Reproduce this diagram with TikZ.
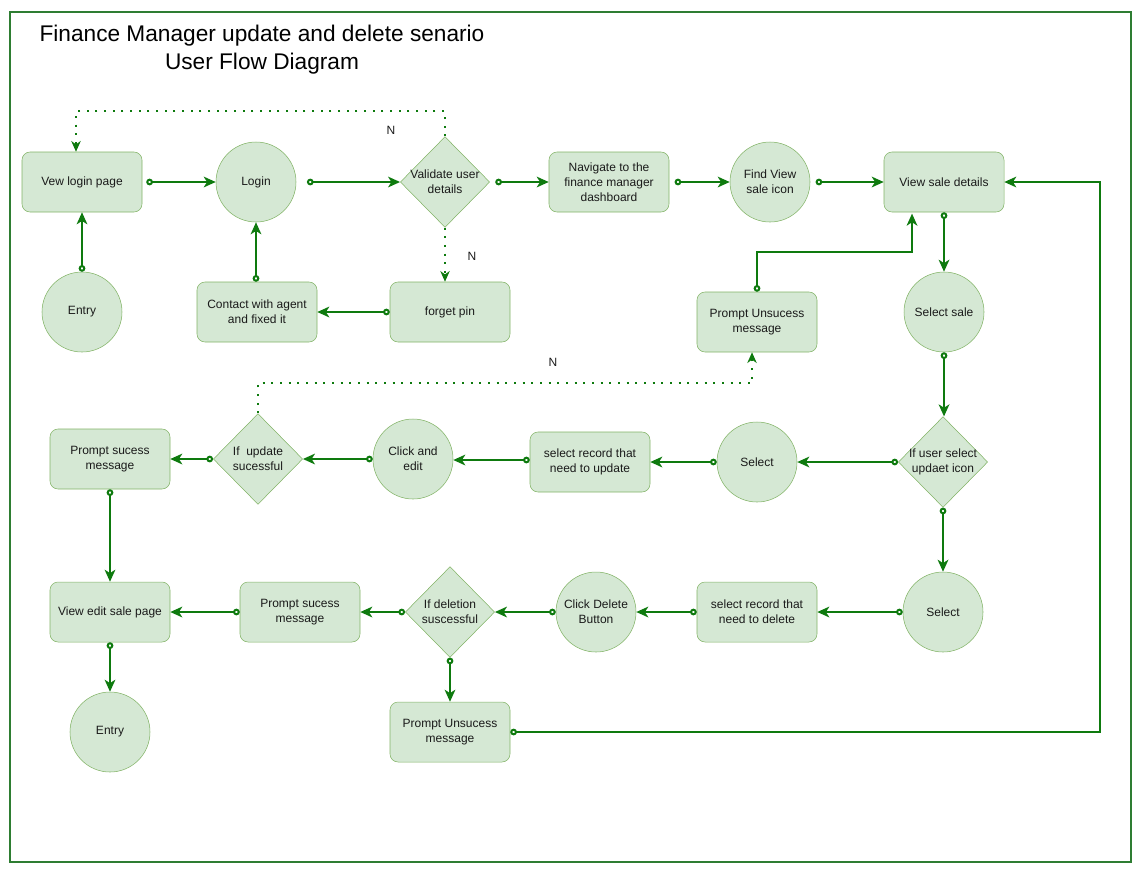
\documentclass[tikz,border=0pt]{standalone}
\usepackage{fontspec}
\setmainfont{Liberation Sans}
\usetikzlibrary{shapes.geometric,arrows.meta}
\definecolor{nfill}{HTML}{D5E8D4}
\definecolor{nline}{HTML}{82B366}
\definecolor{cgreen}{HTML}{0E7A0E}
\definecolor{fgreen}{HTML}{2E7D32}
\definecolor{txt}{HTML}{1A1A1A}
\newcommand\nf{\fontsize{9}{11.25}\selectfont}
\begin{document}
\begin{tikzpicture}[x=0.75pt,y=-0.75pt,
  box/.style={draw=nline,fill=nfill,rounded corners=6pt,minimum width=90pt,minimum height=45pt,align=center,font=\nf,text=txt,inner sep=2pt},
  circ/.style={draw=nline,fill=nfill,circle,minimum size=60pt,align=center,font=\nf,text=txt,inner sep=0pt},
  dia/.style={draw=nline,fill=nfill,diamond,minimum width=67pt,minimum height=68pt,inner sep=0pt},
  dtext/.style={font=\nf,text=txt,align=center},
  conn/.style={draw=cgreen,line width=1.5pt,{Circle[open,fill=white,length=5pt,width=5pt]}-{Stealth[length=9pt,width=8pt,inset=2.5pt]}},
  dconn/.style={draw=cgreen,line width=1.5pt,dash pattern=on 1.5pt off 5pt,-{Stealth[length=8pt,width=7pt,inset=2.5pt]}},
  lbl/.style={font=\nf,text=txt}]
\useasboundingbox (0,0) rectangle (1144,876);
\draw[fgreen,line width=1.5pt] (10,12) rectangle (1131,862);
\node[font=\fontsize{17}{21}\selectfont,align=center,text=black] (title) at (262,50) {Finance Manager update and delete senario\\User Flow Diagram};

% row 1
\node[box] (vlp) at (82,182) {Vew login page};
\node[circ] (login) at (256,182) {Login};
\node[dia] (val) at (445,182) {};
\node[dtext] (valt) at (val.center) {Validate user\\details};
\node[box] (nav) at (609,182) {Navigate to the\\finance manager\\dashboard};
\node[circ] (find) at (770,182) {Find View\\sale icon};
\node[box] (vsd) at (944,182) {View sale details};

% row 2
\node[circ] (entry1) at (82,312) {Entry};
\node[box] (contact) at (257,312) {Contact with agent\\and fixed it};
\node[box] (fp) at (450,312) {forget pin};
\node[box] (pu1) at (757,322) {Prompt Unsucess\\message};
\node[circ] (ss) at (944,312) {Select sale};

% row 3
\node[dia] (ius) at (943,462) {};
\node[dtext] (iust) at (ius.center) {If user select\\updaet icon};
\node[circ] (sel1) at (757,462) {Select};
\node[box] (sru) at (590,462) {select record that\\need to update};
\node[circ] (ce) at (413,459) {Click and\\edit};
\node[dia] (iu) at (258,459) {};
\node[dtext] (iut) at (iu.center) {If~~update\\sucessful};
\node[box] (ps1) at (110,459) {Prompt sucess\\message};

% row 4
\node[box] (ves) at (110,612) {View edit sale page};
\node[box] (ps2) at (300,612) {Prompt sucess\\message};
\node[dia] (ids) at (450,612) {};
\node[dtext] (idst) at (ids.center) {If deletion\\suscessful};
\node[circ] (cdb) at (596,612) {Click Delete\\Button};
\node[box] (srd) at (757,612) {select record that\\need to delete};
\node[circ] (sel2) at (943,612) {Select};

% row 5
\node[circ] (entry2) at (110,732) {Entry};
\node[box] (pu2) at (450,732) {Prompt Unsucess\\message};

% connectors row 1
\draw[conn] (entry1.north) -- (vlp.south);
\draw[conn] ([xshift=3pt]vlp.east) -- (login.west);
\draw[conn] ([xshift=8pt]login.east) -- (val.west);
\draw[conn] ([xshift=4pt]val.east) -- (nav.west);
\draw[conn] ([xshift=4pt]nav.east) -- (find.west);
\draw[conn] ([xshift=4pt]find.east) -- (vsd.west);
\draw[dconn] (val.north) -- ++(0,-25) -| ([xshift=-4.5pt]vlp.north);
\draw[dconn] (val.south) -- (val.south |- fp.north);
\node[lbl] (n1) at (391,130) {N};
\node[lbl] (n2) at (472,256) {N};

% row 2
\draw[conn] (fp.west) -- (contact.east);
\draw[conn] (contact.north -| login) -- (login.south);
\draw[conn] (vsd.south) -- (ss.north);
\draw[conn] (pu1.north) -- ++(0,-40) -| ([xshift=-24pt,yshift=-1pt]vsd.south);

% row 3
\draw[conn] (ss.south) -- (ss.south |- ius.north);
\draw[conn] (ius.west) -- (sel1.east);
\draw[conn] (sel1.west) -- (sru.east);
\draw[conn] ([yshift=1.5pt]sru.west) -- ([yshift=1.5pt]sru.west -| ce.east);
\draw[conn] (ce.west) -- (iu.east);
\draw[conn] (iu.west) -- (ps1.east);
\draw[dconn] (iu.north) -- ++(0,-30) -| ([xshift=-3.75pt]pu1.south);
\node[lbl] (n3) at (553,362) {N};

% row 4
\draw[conn] (ps1.south) -- (ves.north);
\draw[conn] (ius.south) -- (sel2.north);
\draw[conn] (sel2.west) -- (srd.east);
\draw[conn] (srd.west) -- (cdb.east);
\draw[conn] (cdb.west) -- (ids.east);
\draw[conn] (ids.west) -- (ps2.east);
\draw[conn] (ps2.west) -- (ves.east);
\draw[conn] (ves.south) -- (entry2.north);
\draw[conn] (ids.south) -- (pu2.north);
\draw[conn] (pu2.east) -- ++(590,0) |- (vsd.east);
\end{tikzpicture}
\end{document}
